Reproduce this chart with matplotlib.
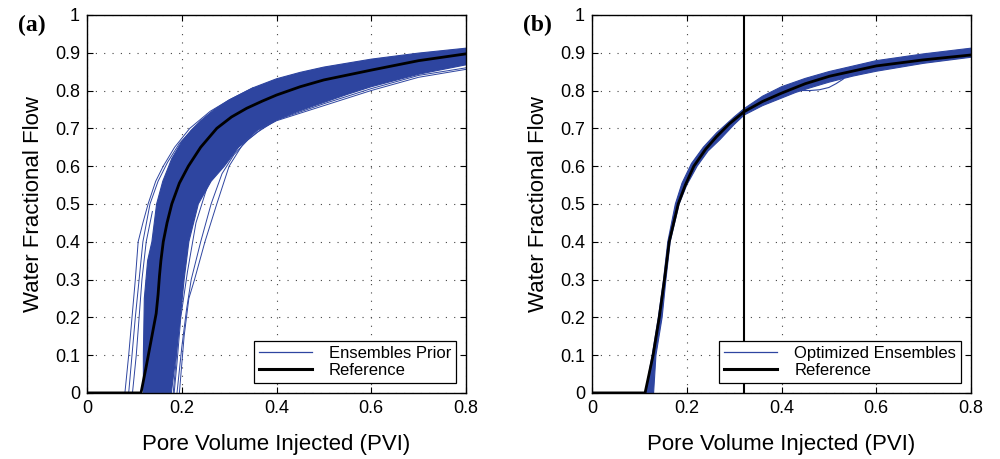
import numpy as np
import matplotlib
matplotlib.use("Agg")
import matplotlib.pyplot as plt
from matplotlib.lines import Line2D

plt.rcParams['font.family'] = ['Liberation Sans', 'DejaVu Sans']

BLUE = '#2E45A0'

# ---------------- data ----------------
xticks = [0, 0.2, 0.4, 0.6, 0.8]
yticks = [0, 0.1, 0.2, 0.3, 0.4, 0.5, 0.6, 0.7, 0.8, 0.9, 1.0]

# Panel (a) reference curve
ref_a_x = [0.0, 0.114, 0.125, 0.137, 0.146, 0.150, 0.153, 0.156, 0.161, 0.169, 0.179, 0.195, 0.214,
           0.240, 0.274, 0.305, 0.337, 0.370, 0.400, 0.450, 0.500, 0.600, 0.700, 0.800]
ref_a_y = [0.0, 0.0, 0.07, 0.15, 0.21, 0.26, 0.31, 0.35, 0.40, 0.45, 0.50, 0.555, 0.60,
           0.65, 0.70, 0.73, 0.753, 0.772, 0.788, 0.810, 0.828, 0.854, 0.879, 0.897]

# Panel (a) dense ensemble band: early (upper-left) edge and late (lower-right) edge
band_a_early_x = [0.119, 0.119, 0.121, 0.128, 0.137, 0.147, 0.160, 0.179, 0.200, 0.220, 0.240,
                  0.267, 0.300, 0.350, 0.400, 0.450, 0.500, 0.600, 0.700, 0.800]
band_a_early_y = [0.0, 0.10, 0.25, 0.35, 0.40, 0.50, 0.56, 0.62, 0.665, 0.695, 0.72,
                  0.748, 0.775, 0.807, 0.831, 0.848, 0.862, 0.883, 0.899, 0.912]
band_a_late_x = [0.178, 0.188, 0.197, 0.205, 0.215, 0.235, 0.262, 0.290, 0.320, 0.360, 0.400,
                 0.440, 0.478, 0.550, 0.600, 0.700, 0.800]
band_a_late_y = [0.0, 0.10, 0.20, 0.30, 0.40, 0.50, 0.56, 0.60, 0.65, 0.695, 0.722,
                 0.742, 0.759, 0.790, 0.810, 0.843, 0.868]

# Panel (a) individual outlying ensemble members
memb_a = [
    ([0.080, 0.088, 0.095, 0.102, 0.108, 0.118, 0.129, 0.145, 0.161, 0.185, 0.217, 0.260, 0.300, 0.350],
     [0.0, 0.10, 0.20, 0.30, 0.40, 0.45, 0.50, 0.56, 0.60, 0.65, 0.70, 0.745, 0.775, 0.807]),
    ([0.088, 0.095, 0.102, 0.110, 0.118, 0.133, 0.150, 0.170, 0.195, 0.225, 0.260],
     [0.0, 0.10, 0.20, 0.30, 0.40, 0.50, 0.56, 0.61, 0.66, 0.70, 0.74]),
    ([0.096, 0.104, 0.110, 0.116, 0.125, 0.138],
     [0.0, 0.10, 0.20, 0.30, 0.40, 0.48]),
    ([0.195, 0.205, 0.215, 0.227, 0.249, 0.274, 0.300, 0.330, 0.370, 0.400, 0.450, 0.500, 0.600, 0.700, 0.800],
     [0.0, 0.15, 0.25, 0.30, 0.40, 0.50, 0.60, 0.66, 0.70, 0.72, 0.74, 0.76, 0.80, 0.835, 0.856]),
    ([0.190, 0.200, 0.210, 0.220, 0.240, 0.262, 0.285, 0.310, 0.340, 0.360, 0.400, 0.500, 0.600, 0.700, 0.800],
     [0.0, 0.12, 0.22, 0.30, 0.40, 0.50, 0.58, 0.63, 0.67, 0.69, 0.722, 0.765, 0.805, 0.840, 0.860]),
    ([0.184, 0.190, 0.198, 0.212, 0.230, 0.255, 0.280, 0.300],
     [0.0, 0.08, 0.20, 0.32, 0.45, 0.55, 0.60, 0.63]),
    ([0.182, 0.187, 0.193, 0.200],
     [0.0, 0.07, 0.16, 0.25]),
]

# Panel (b) reference curve
ref_b_x = [0.0, 0.112, 0.129, 0.142, 0.153, 0.163, 0.182, 0.197, 0.215, 0.240, 0.263, 0.290,
           0.321, 0.360, 0.400, 0.450, 0.502, 0.600, 0.699, 0.800]
ref_b_y = [0.0, 0.0, 0.10, 0.20, 0.30, 0.40, 0.50, 0.55, 0.60, 0.645, 0.678, 0.712,
           0.744, 0.771, 0.793, 0.818, 0.838, 0.865, 0.881, 0.894]

# Panel (b) ensemble band
band_b_early_x = [0.113, 0.127, 0.140, 0.151, 0.160, 0.176, 0.190, 0.210, 0.235, 0.263, 0.300, 0.321,
                  0.360, 0.400, 0.450, 0.500, 0.600, 0.700, 0.800]
band_b_early_y = [0.0, 0.10, 0.20, 0.30, 0.40, 0.50, 0.555, 0.607, 0.650, 0.688, 0.730, 0.752,
                  0.785, 0.810, 0.832, 0.850, 0.879, 0.897, 0.912]
band_b_late_x = [0.130, 0.135, 0.148, 0.156, 0.165, 0.184, 0.200, 0.222, 0.245, 0.270, 0.300, 0.321,
                 0.360, 0.400, 0.430, 0.460, 0.500, 0.550, 0.600, 0.700, 0.800]
band_b_late_y = [0.0, 0.10, 0.20, 0.30, 0.40, 0.50, 0.55, 0.60, 0.64, 0.67, 0.71, 0.735,
                 0.760, 0.780, 0.795, 0.807, 0.822, 0.838, 0.851, 0.872, 0.888]

# Panel (b) outlying member forming a small loop
memb_b_x = [0.440, 0.460, 0.480, 0.500, 0.515, 0.530]
memb_b_y = [0.800, 0.800, 0.802, 0.808, 0.818, 0.830]

# Panel (b) vertical marker
vline_b = 0.321

labels_a = ['Ensembles Prior', 'Reference']
labels_b = ['Optimized Ensembles', 'Reference']

# ---------------- figure ----------------
fig = plt.figure(figsize=(10, 4.59), dpi=100)
ax_a = fig.add_axes([0.087, 0.144, 0.379, 0.8235])
ax_b = fig.add_axes([0.592, 0.144, 0.379, 0.8235])


def band(ax, ex, ey, lx, ly):
    px = np.concatenate([ex, lx[::-1]])
    py = np.concatenate([ey, ly[::-1]])
    ax.fill(px, py, color=BLUE, lw=0.8, ec=BLUE, zorder=2)


def style(ax, legend_labels):
    ax.set_xlim(0, 0.8)
    ax.set_ylim(0, 1)
    ax.set_xticks(xticks)
    ax.set_xticklabels(['0', '0.2', '0.4', '0.6', '0.8'])
    ax.set_yticks(yticks)
    ax.set_yticklabels(['0', '0.1', '0.2', '0.3', '0.4', '0.5', '0.6', '0.7', '0.8', '0.9', '1'])
    ax.tick_params(direction='in', top=True, right=True, labelsize=13, length=4, width=0.8, pad=5)
    ax.grid(True, ls=(0, (1, 6.5)), color='#444444', lw=0.8)
    ax.set_axisbelow(True)
    for s in ax.spines.values():
        s.set_linewidth(1.0)
        s.set_zorder(5)
    ax.set_xlabel('Pore Volume Injected (PVI)', fontsize=16, labelpad=12)
    ax.set_ylabel('Water Fractional Flow', fontsize=16, labelpad=8)
    handles = [Line2D([], [], color=BLUE, lw=0.9), Line2D([], [], color='black', lw=2.2)]
    leg = ax.legend(handles, legend_labels, loc='lower right', fontsize=12, frameon=True,
                    fancybox=False, edgecolor='black', framealpha=1, borderaxespad=0.6,
                    handlelength=3.2, handletextpad=1.0, borderpad=0.3, labelspacing=0.1)
    leg.get_frame().set_linewidth(0.9)
    leg.set_zorder(10)


# Panel (a)
band(ax_a, band_a_early_x, band_a_early_y, band_a_late_x, band_a_late_y)
for mx, my in memb_a:
    ax_a.plot(mx, my, color=BLUE, lw=0.7, zorder=3)
ax_a.plot(ref_a_x, ref_a_y, color='black', lw=2.0, zorder=4)
style(ax_a, labels_a)

# Panel (b)
band(ax_b, band_b_early_x, band_b_early_y, band_b_late_x, band_b_late_y)
ax_b.plot(memb_b_x, memb_b_y, color=BLUE, lw=0.8, zorder=3)
ax_b.plot(ref_b_x, ref_b_y, color='black', lw=2.0, zorder=4)
ax_b.axvline(vline_b, color='black', lw=1.5, zorder=4)
style(ax_b, labels_b)

fig.text(0.032, 0.945, '(a)', fontsize=17, fontweight='bold', family=['Liberation Serif', 'DejaVu Serif'],
         ha='center', va='center')
fig.text(0.537, 0.945, '(b)', fontsize=17, fontweight='bold', family=['Liberation Serif', 'DejaVu Serif'],
         ha='center', va='center')

fig.savefig('out.png', dpi=100)
